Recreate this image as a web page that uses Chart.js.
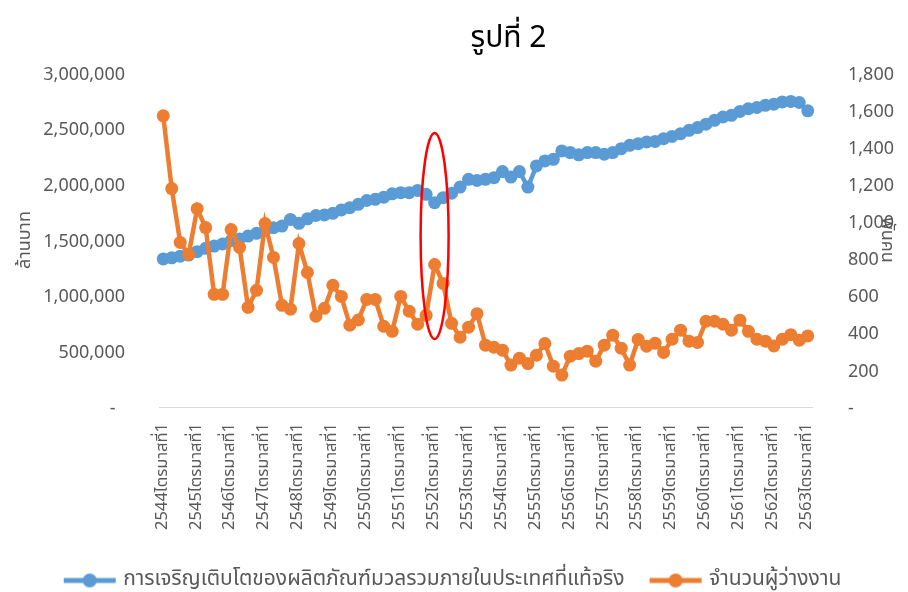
<!DOCTYPE html>
<html>
<head>
<meta charset="utf-8">
<script src="https://cdn.jsdelivr.net/npm/chart.js@4.4.1/dist/chart.umd.min.js"></script>
<style>
  html, body { margin: 0; padding: 0; background: #fff; }
</style>
</head>
<body>
<canvas id="chart" width="908" height="592"></canvas>
<script>
// Categories: quarters from 2544 Q1 to 2563 Q1
const years = [2544, 2545, 2546, 2547, 2548, 2549, 2550, 2551, 2552, 2553,
               2554, 2555, 2556, 2557, 2558, 2559, 2560, 2561, 2562, 2563];
const quarters = [1, 2, 3, 4];
const categories = [];
years.forEach(y => quarters.forEach(q => {
    if (y < 2563 || q === 1) categories.push(y + 'ไตรมาสที่' + q);
}));

// Real GDP (million baht), left axis
const gdpValues = [
    1330000, 1340000, 1355000, 1365000, 1395000, 1425000, 1445000, 1465000,
    1495000, 1510000, 1535000, 1560000, 1585000, 1610000, 1625000, 1685000,
    1650000, 1690000, 1720000, 1725000, 1740000, 1770000, 1790000, 1820000,
    1855000, 1865000, 1885000, 1915000, 1925000, 1925000, 1945000, 1910000,
    1835000, 1880000, 1920000, 1975000, 2045000, 2035000, 2045000, 2060000,
    2115000, 2065000, 2115000, 1975000, 2165000, 2210000, 2225000, 2300000,
    2285000, 2265000, 2285000, 2285000, 2270000, 2285000, 2320000, 2350000,
    2365000, 2380000, 2385000, 2410000, 2430000, 2455000, 2485000, 2510000,
    2540000, 2575000, 2605000, 2620000, 2655000, 2680000, 2690000, 2710000,
    2720000, 2740000, 2745000, 2735000, 2660000
];

// Unemployed (thousand persons), right axis
const unemployedValues = [
    1569, 1177, 887, 822, 1069, 967, 607, 607, 956, 860, 537, 629,
    989, 806, 548, 527, 881, 725, 489, 532, 656, 596, 441, 469,
    580, 580, 435, 408, 596, 516, 446, 494, 768, 666, 451, 376,
    430, 503, 333, 322, 306, 226, 263, 234, 279, 342, 220, 172,
    274, 288, 301, 247, 333, 387, 317, 226, 364, 328, 344, 294,
    365, 414, 355, 348, 462, 462, 446, 414, 468, 408, 365, 355,
    329, 365, 390, 360, 383
];

// Highlighted quarter (2552 Q1) and the span of the ellipse on the left axis
const highlightIndex = 32;
const highlightTop = 2460000;
const highlightBottom = 610000;

const blue = '#5B9BD5';
const orange = '#ED7D31';
const textGray = '#595959';
const fontFamily = '"Noto Sans Thai", "Noto Sans", "Liberation Sans", "DejaVu Sans", sans-serif';

// legend icon: line with a marker in the middle
function makeIcon(color) {
    const c = document.createElement('canvas');
    c.width = 56;
    c.height = 16;
    const g = c.getContext('2d');
    g.strokeStyle = color;
    g.lineWidth = 5;
    g.beginPath();
    g.moveTo(2, 8);
    g.lineTo(54, 8);
    g.stroke();
    g.fillStyle = color;
    g.beginPath();
    g.arc(28, 8, 7, 0, Math.PI * 2);
    g.fill();
    return c;
}
const icons = [makeIcon(blue), makeIcon(orange)];

const titlePlugin = {
    id: 'customTitle',
    afterDraw(chart) {
        const ctx = chart.ctx;
        ctx.save();
        ctx.font = '30px ' + fontFamily;
        ctx.fillStyle = '#000';
        ctx.textAlign = 'center';
        ctx.textBaseline = 'middle';
        ctx.fillText('รูปที่ 2', chart.chartArea.left + (chart.chartArea.right - chart.chartArea.left) / 2 + 23, 41);
        ctx.restore();
    }
};

const ellipsePlugin = {
    id: 'highlight',
    afterDatasetsDraw(chart) {
        const ctx = chart.ctx;
        const x = chart.scales.x.getPixelForValue(highlightIndex);
        const top = chart.scales.y.getPixelForValue(highlightTop);
        const bottom = chart.scales.y.getPixelForValue(highlightBottom);
        ctx.save();
        ctx.strokeStyle = '#FF0000';
        ctx.lineWidth = 2.5;
        ctx.beginPath();
        ctx.ellipse(x, (top + bottom) / 2, 14, (bottom - top) / 2, 0, 0, Math.PI * 2);
        ctx.stroke();
        ctx.restore();
    }
};

Chart.defaults.font.family = fontFamily;
Chart.defaults.color = textGray;

new Chart(document.getElementById('chart'), {
    type: 'line',
    data: {
        labels: categories,
        datasets: [{
            label: 'การเจริญเติบโตของผลิตภัณฑ์มวลรวมภายในประเทศที่แท้จริง',
            data: gdpValues,
            yAxisID: 'y',
            borderColor: blue,
            backgroundColor: blue,
            borderWidth: 4.5,
            pointRadius: 6.5,
            pointBorderWidth: 0,
            pointHoverRadius: 6.5,
            tension: 0,
            order: 2
        }, {
            label: 'จำนวนผู้ว่างงาน',
            data: unemployedValues,
            yAxisID: 'y1',
            borderColor: orange,
            backgroundColor: orange,
            borderWidth: 4.5,
            pointRadius: 6.5,
            pointBorderWidth: 0,
            pointHoverRadius: 6.5,
            tension: 0,
            order: 1
        }]
    },
    options: {
        responsive: false,
        animation: false,
        layout: { padding: { top: 73, left: 0, right: 0, bottom: -9 } },
        plugins: {
            title: { display: false },
            tooltip: { enabled: false },
            legend: {
                position: 'bottom',
                labels: {
                    usePointStyle: true,
                    pointStyleWidth: 46,
                    padding: 28,
                    color: textGray,
                    font: { size: 21 },
                    sort: (a, b) => a.datasetIndex - b.datasetIndex,
                    generateLabels(chart) {
                        const items = Chart.defaults.plugins.legend.labels.generateLabels(chart);
                        items.forEach(it => { it.pointStyle = icons[it.datasetIndex]; });
                        return items;
                    }
                }
            }
        },
        scales: {
            x: {
                type: 'category',
                offset: true,
                grid: { display: false, drawTicks: false },
                border: { display: true, color: '#D9D9D9', width: 1 },
                ticks: {
                    autoSkip: false,
                    maxRotation: 90,
                    minRotation: 90,
                    padding: 16,
                    color: textGray,
                    font: { size: 16.5 },
                    callback: (v, i) => (i % 4 === 0 ? categories[i] : '')
                },
                afterFit: s => { s.height = 135; }
            },
            y: {
                position: 'left',
                min: 0,
                max: 3000000,
                grid: { display: false, drawTicks: false },
                border: { display: false },
                ticks: {
                    stepSize: 500000,
                    padding: 34,
                    labelOffset: 3,
                    color: textGray,
                    font: { size: 18 },
                    callback: v => (v === 0 ? '-  ' : v.toLocaleString('en-US'))
                },
                title: {
                    display: true,
                    text: 'ล้านบาท',
                    color: textGray,
                    font: { size: 18 },
                    padding: { top: 16, bottom: 0 }
                },
                afterFit: s => { s.width = 159; }
            },
            y1: {
                position: 'right',
                min: 0,
                max: 1800,
                grid: { display: false, drawTicks: false },
                border: { display: false },
                ticks: {
                    stepSize: 200,
                    padding: 36,
                    labelOffset: 3,
                    color: textGray,
                    font: { size: 18 },
                    callback: v => (v === 0 ? '-' : v.toLocaleString('en-US'))
                },
                title: {
                    display: true,
                    text: 'พันคน',
                    color: textGray,
                    font: { size: 18 },
                    padding: { top: 12, bottom: 0 }
                },
                afterFit: s => { s.width = 96; }
            }
        }
    },
    plugins: [titlePlugin, ellipsePlugin]
});
</script>
</body>
</html>
